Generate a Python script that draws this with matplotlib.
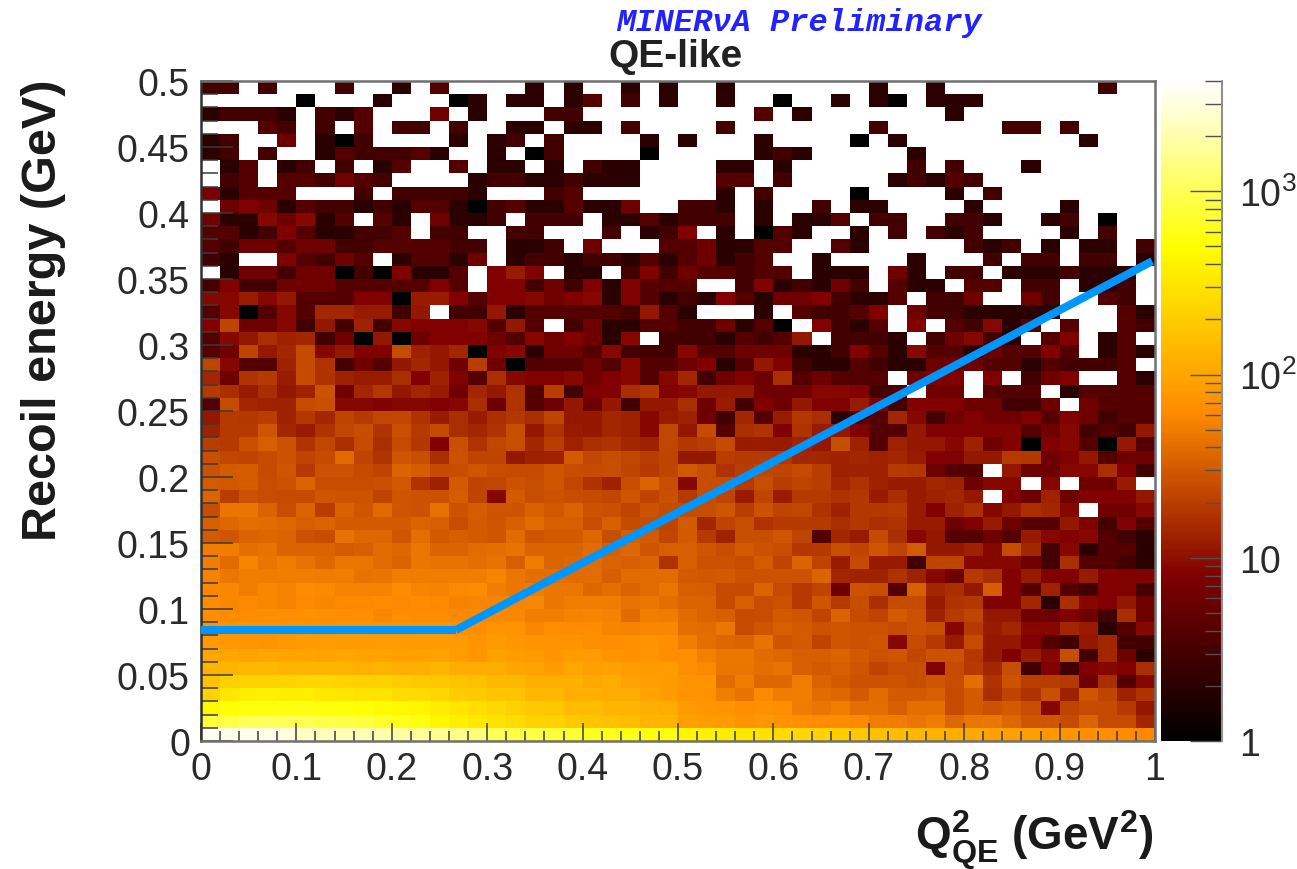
#!/usr/bin/env python3
import numpy as np
import matplotlib
matplotlib.use("Agg")
import matplotlib.pyplot as plt
from matplotlib.colors import LinearSegmentedColormap, LogNorm
from matplotlib.ticker import FixedLocator, FixedFormatter, NullFormatter

plt.rcParams["font.family"] = "Liberation Sans"
plt.rcParams["mathtext.fontset"] = "custom"
plt.rcParams["mathtext.rm"] = "Liberation Sans"
plt.rcParams["mathtext.bf"] = "Liberation Sans:bold"
plt.rcParams["mathtext.it"] = "Liberation Sans:italic"

# event counts per cell, top row (0.49-0.5 GeV) first, 0 = empty bin
counts = [
    [3,3,0,3,0,0,0,3,0,0,2,0,4,0,0,0,0,2,0,2,0,0,2,0,2,0, 0,2,0,0,0,0,0,0,0,2,0,0,2,0,0,0,0,0,0,0,0,3,0,0],
    [0,0,0,0,0,1,0,0,0,2,0,0,0,1,2,0,2,2,0,2,4,0,3,0,2,0, 0,2,0,0,1,0,0,2,0,2,1,0,2,2,2,0,0,0,0,0,0,0,0,0],
    [2,3,3,3,2,0,3,2,4,0,0,0,6,0,2,0,0,0,3,3,0,0,0,0,0,0, 0,0,0,4,0,2,0,0,0,0,0,0,0,2,0,0,0,0,0,0,0,0,0,0],
    [0,0,0,4,3,0,3,0,4,0,3,3,0,3,0,0,2,2,0,2,2,0,3,0,0,0, 0,3,0,0,0,0,0,0,0,3,0,0,0,0,0,0,3,3,0,3,0,0,0,0],
    [2,3,0,0,6,0,2,1,3,0,0,0,0,2,0,2,3,0,3,0,0,0,0,2,0,2, 0,0,0,2,0,0,0,0,1,0,2,0,0,0,0,0,0,0,0,0,2,0,0,0],
    [2,3,0,3,0,0,2,4,3,3,3,4,2,0,0,2,0,1,3,0,0,0,0,1,0,0, 0,0,0,2,3,2,0,0,0,0,0,2,0,0,0,0,0,0,0,0,0,0,0,0],
    [0,2,4,0,2,3,0,3,0,2,4,0,0,4,0,2,2,0,2,0,3,2,2,0,0,0, 0,2,2,0,2,0,0,0,0,0,0,3,0,3,0,0,0,2,0,0,0,0,0,0],
    [0,3,4,0,4,4,3,6,4,3,0,0,0,0,2,3,3,2,2,3,2,2,2,0,0,0, 0,4,4,0,3,0,0,0,0,0,2,3,2,4,3,0,0,0,0,0,0,0,0,0],
    [7,2,4,4,4,0,0,0,3,0,3,3,3,3,2,0,0,0,3,4,0,0,0,0,0,0, 0,2,0,3,0,0,0,0,1,0,0,0,0,2,0,3,0,0,0,0,0,0,0,0],
    [0,6,8,6,2,4,3,3,2,3,2,4,4,2,1,3,4,2,2,4,2,2,6,0,0,3, 3,2,0,2,0,0,3,0,2,2,0,0,0,0,2,0,0,0,0,2,0,0,0,0],
    [6,2,2,9,6,9,2,4,0,4,2,0,6,2,2,3,0,3,3,3,0,2,2,4,2,3, 3,3,0,2,0,2,2,4,0,3,3,0,0,3,3,2,0,0,2,3,0,1,0,0],
    [4,4,2,3,8,4,2,2,3,3,4,0,3,3,0,0,3,3,0,0,0,3,0,2,3,8, 0,2,0,1,4,2,0,0,2,0,3,0,3,2,3,0,0,0,0,2,0,3,0,0],
    [4,3,6,6,4,6,6,3,3,4,4,4,4,3,3,0,2,2,3,0,6,0,0,0,4,4, 6,2,2,4,4,0,0,4,2,0,0,0,0,0,3,2,3,0,2,0,2,2,0,3],
    [3,2,0,0,8,4,3,6,4,0,2,4,4,2,6,0,2,3,3,2,3,3,2,4,2,4, 6,2,3,4,0,0,2,0,0,0,0,2,0,0,0,3,0,3,3,0,3,3,0,2],
    [0,2,6,6,3,6,6,1,3,1,8,2,2,4,0,8,12,8,0,2,2,0,3,8,3,6, 4,4,3,4,4,0,2,2,2,0,6,2,0,3,3,0,2,2,2,3,2,2,2,0],
    [3,8,3,3,6,6,6,4,4,4,4,4,8,4,0,8,8,3,6,3,8,2,8,4,4,4, 0,0,3,8,2,3,2,6,3,0,4,2,2,0,4,4,0,3,3,0,2,2,3,0],
    [9,9,12,9,11,4,4,4,8,8,1,12,12,8,4,8,8,9,6,8,9,2,8,4,2,3, 2,8,4,2,6,6,8,3,2,2,4,0,3,3,6,0,0,6,3,0,0,4,3,0],
    [4,9,1,4,9,4,14,14,12,12,3,11,0,3,3,11,2,4,4,4,4,4,3,11,4,2, 0,0,0,2,0,4,3,3,4,8,0,6,3,3,2,2,2,2,2,0,0,0,4,2],
    [8,22,6,6,9,3,11,3,13,3,9,8,8,8,9,4,11,4,0,3,6,2,2,4,4,3, 3,6,2,4,1,0,8,3,2,4,0,8,0,4,3,9,2,4,0,4,0,0,4,3],
    [4,9,11,16,13,14,3,6,1,11,1,6,8,8,8,6,4,9,6,8,6,2,9,0,3,3, 3,2,4,3,4,11,0,3,3,3,2,0,3,6,9,3,2,0,4,8,0,2,4,0],
    [4,6,22,11,14,24,9,11,8,8,24,13,11,14,1,8,9,2,6,6,4,9,3,3,3,9, 4,4,6,6,6,2,2,3,8,4,2,9,4,4,2,6,4,4,8,4,0,2,4,2],
    [22,9,4,4,13,24,17,3,6,4,11,14,11,6,20,6,1,4,4,4,6,4,9,4,4,6, 8,2,4,11,8,3,2,2,4,3,2,2,6,6,6,4,4,2,4,3,3,3,4,0],
    [14,6,17,19,12,24,17,13,12,12,16,8,13,8,4,16,9,8,8,9,6,8,9,4,9,14, 3,6,8,6,16,4,6,4,4,4,0,6,8,8,0,8,0,3,6,8,0,0,4,2],
    [19,16,12,16,11,13,27,6,14,18,11,14,12,6,14,11,17,4,20,3,8,8,16,18,8,9, 11,11,11,6,6,6,9,9,8,3,4,0,6,6,0,4,4,4,0,2,4,4,4,4],
    [4,24,14,13,13,24,26,9,9,8,9,9,8,9,16,6,17,4,6,11,6,11,3,11,11,16, 6,12,3,8,6,11,8,8,12,8,3,8,8,8,6,6,3,3,6,0,6,4,4,4],
    [11,19,18,20,13,18,14,22,19,23,23,17,12,16,12,16,18,16,22,11,11,14,13,9,12,13, 6,3,14,4,12,18,16,2,4,4,14,9,3,6,8,6,6,8,4,8,6,3,4,4],
    [13,19,19,29,14,12,17,23,25,17,26,19,24,16,14,17,25,11,17,12,11,14,13,9,23,11, 24,4,16,17,8,17,12,11,8,4,4,11,8,8,8,8,8,4,6,9,3,4,3,11],
    [20,19,26,33,27,17,23,16,24,16,24,18,8,26,17,23,25,14,20,13,16,17,14,13,23,18, 20,24,12,12,12,13,11,25,13,4,13,11,11,9,13,6,8,1,8,9,4,1,11,4],
    [26,23,22,24,27,22,24,38,22,17,29,25,16,27,22,22,11,13,13,31,23,25,23,20,22,11, 11,20,19,19,18,14,14,13,14,13,14,12,8,8,11,11,19,18,6,8,11,4,6,6],
    [27,31,32,24,29,19,27,27,24,22,35,32,24,25,29,25,24,24,29,25,24,25,22,19,22,30, 25,17,20,23,22,24,20,13,13,13,19,18,6,4,4,0,11,6,6,9,9,16,8,3],
    [31,30,32,25,27,35,25,25,25,26,30,17,13,31,22,23,27,25,29,23,17,13,25,35,25,9, 25,25,19,25,20,22,20,14,17,13,12,12,14,13,6,9,9,0,9,0,6,6,12,0],
    [35,20,27,25,24,24,29,28,28,22,29,27,27,32,22,9,31,25,27,25,24,23,29,22,26,19, 25,22,12,22,12,19,19,17,18,12,16,12,13,14,11,0,8,6,13,6,8,8,8,11],
    [25,45,45,35,25,35,20,34,29,38,29,27,42,27,32,28,28,34,30,35,27,26,22,27,24,24, 25,29,20,27,22,23,17,13,18,18,19,12,8,13,16,9,11,16,14,9,0,6,6,9],
    [33,37,41,39,37,33,35,31,31,31,31,35,33,25,31,29,33,39,33,33,25,33,24,25,22,31, 14,22,25,17,19,19,19,16,18,16,17,12,12,6,8,12,6,4,4,11,8,3,8,4],
    [31,29,35,37,35,27,25,43,37,37,29,41,31,33,31,29,39,29,31,31,37,25,33,31,23,31, 19,13,25,25,29,22,4,14,12,24,16,9,11,4,4,6,4,12,9,8,9,4,3,2],
    [49,50,41,43,35,35,35,31,33,39,37,47,35,35,39,41,43,35,35,35,39,33,37,29,33,33, 29,25,31,27,25,18,19,25,22,29,22,31,11,11,13,9,24,14,3,9,2,4,4,2],
    [52,39,56,45,49,43,37,47,45,39,35,47,43,43,41,43,33,49,35,37,39,35,33,35,17,33, 27,27,25,31,22,35,22,12,24,12,12,3,22,22,9,9,9,6,3,16,4,4,3,2],
    [54,47,51,49,51,51,49,52,43,45,51,49,51,52,51,56,47,41,41,39,39,33,39,39,39,31, 30,31,27,27,28,27,35,14,13,13,17,13,9,6,19,16,8,12,8,8,12,8,8,8],
    [60,58,52,58,54,62,60,54,54,54,62,56,54,60,63,51,47,49,47,47,37,41,35,39,45,33, 32,24,24,35,24,19,22,6,27,25,4,33,14,16,11,32,8,4,13,4,3,8,8,3],
    [62,58,60,58,54,60,58,60,60,62,60,62,60,54,56,56,56,58,47,51,51,49,43,47,41,35, 35,24,33,25,27,19,29,19,25,16,24,24,12,17,18,8,8,14,2,16,9,8,11,6],
    [65,63,63,65,66,68,66,66,68,58,65,63,63,60,60,60,58,52,52,54,56,54,39,52,49,39, 35,33,24,25,31,29,22,35,24,22,31,27,13,19,22,11,11,6,6,8,6,3,16,6],
    [74,74,72,72,74,72,74,74,72,72,74,72,72,68,66,72,74,58,65,62,62,56,54,58,58,41, 39,47,24,29,33,31,27,29,27,27,24,27,25,9,19,12,14,9,9,14,12,2,4,9],
    [80,78,76,70,78,80,82,80,80,82,84,80,80,80,74,80,76,72,70,74,66,64,68,70,66,51, 41,37,35,43,29,31,22,29,27,29,9,24,19,12,24,11,11,8,4,3,11,14,3,3],
    [100,100,96,100,98,98,96,100,94,94,90,90,94,86,76,90,84,80,72,86,82,70,68,76,64,64, 53,47,47,39,37,33,33,35,31,27,29,23,27,27,18,11,8,12,9,25,3,14,6,2],
    [130,130,140,140,130,130,130,130,120,130,120,120,130,110,110,110,100,96,84,100,90,92,86,84,86,64, 60,45,45,41,43,33,31,33,29,22,25,25,8,24,19,14,25,3,8,3,8,9,8,16],
    [170,210,230,230,220,240,240,220,210,210,200,190,180,170,160,140,140,120,120,120,106,112,92,90,80,72, 72,39,49,37,37,49,35,31,27,27,28,25,29,25,41,17,27,20,20,19,6,16,4,9],
    [220,330,370,380,370,370,340,330,300,300,270,260,240,200,190,170,170,140,140,120,120,110,110,95,85,72, 68,51,43,60,49,51,39,37,31,39,31,31,33,24,31,16,22,17,26,13,29,22,13,17],
    [450,500,540,550,560,560,540,520,510,470,450,420,360,320,280,250,210,190,180,150,150,130,130,120,110,80, 76,72,64,68,64,49,45,52,41,41,33,41,41,24,31,27,31,25,9,22,24,24,19,11],
    [800,900,1000,1050,1000,950,900,850,800,700,600,540,440,380,340,290,270,230,220,190,170,160,150,130,130,88, 84,80,74,78,72,66,62,62,60,52,49,45,49,37,45,47,37,29,29,24,35,24,24,14],
    [3600,3400,3300,3200,3000,2400,2300,2200,2100,2000,1800,1700,1600,1500,1300,1000,900,850,800,750,650,620,590,550,520,420, 390,360,320,290,260,240,220,200,180,160,150,140,125,115,105,95,90,85,78,70,66,64,62,60],
]

# cut line
cut_q2 = [0.0, 0.267, 0.997]
cut_recoil = [0.084, 0.084, 0.3635]

x_ticks = [0, 0.1, 0.2, 0.3, 0.4, 0.5, 0.6, 0.7, 0.8, 0.9, 1]
x_labels = ["0", "0.1", "0.2", "0.3", "0.4", "0.5", "0.6", "0.7", "0.8", "0.9", "1"]
y_ticks = [0, 0.05, 0.1, 0.15, 0.2, 0.25, 0.3, 0.35, 0.4, 0.45, 0.5]
y_labels = ["0", "0.05", "0.1", "0.15", "0.2", "0.25", "0.3", "0.35", "0.4", "0.45", "0.5"]

W, H = 1297, 870
FRAME = "#707070"
TEXT = "#2a2a2a"

# same stops as ROOT's dark body radiator palette
palette = LinearSegmentedColormap.from_list(
    "darkbody",
    [(0.0, (0, 0, 0)), (0.25, (0.5, 0, 0)), (0.5, (1, 0.55, 0)),
     (0.75, (1, 1, 0)), (1.0, (1, 1, 1))],
    N=256,
)
palette.set_bad("white")

fig = plt.figure(figsize=(W / 100, H / 100), dpi=100)
ax = fig.add_axes([201 / W, 1 - 742 / H, 954 / W, 660 / H])
cax = fig.add_axes([1161 / W, 1 - 742 / H, 61 / W, 660 / H])

grid = np.array(counts, dtype=float)[::-1]
grid = np.ma.masked_where(grid <= 0, grid)
x_edges = np.linspace(0, 1, grid.shape[1] + 1)
y_edges = np.linspace(0, 0.5, grid.shape[0] + 1)

mesh = ax.pcolormesh(x_edges, y_edges, grid, cmap=palette,
                     norm=LogNorm(vmin=1, vmax=4000), rasterized=True)
# two separate pieces, the reference shows a small notch at the corner
ax.plot(cut_q2[:2], cut_recoil[:2], color="#0096ff", lw=5.8, solid_capstyle="butt", zorder=5)
ax.plot(cut_q2[1:], cut_recoil[1:], color="#0096ff", lw=5.8, solid_capstyle="butt", zorder=5)

ax.set_xlim(0, 1)
ax.set_ylim(0, 0.5)
ax.xaxis.set_major_locator(FixedLocator(x_ticks))
ax.xaxis.set_major_formatter(FixedFormatter(x_labels))
ax.xaxis.set_minor_locator(FixedLocator(np.arange(0, 1.001, 0.02)))
ax.yaxis.set_major_locator(FixedLocator(y_ticks))
ax.yaxis.set_major_formatter(FixedFormatter(y_labels))
ax.yaxis.set_minor_locator(FixedLocator(np.arange(0, 0.5001, 0.01)))
ax.tick_params(axis="x", which="major", direction="in", length=13, width=1.1,
               color="#3a3a3a", labelsize=27, labelcolor=TEXT, pad=7)
ax.tick_params(axis="x", which="minor", direction="in", length=7, width=1.1, color="#3a3a3a")
ax.tick_params(axis="y", which="major", direction="in", length=23, width=1.1,
               color="#3a3a3a", labelsize=27, labelcolor=TEXT, pad=8)
ax.tick_params(axis="y", which="minor", direction="in", length=12, width=1.1, color="#3a3a3a")
for s in ax.spines.values():
    s.set_color(FRAME)
    s.set_linewidth(1.8)
ax.spines["left"].set_color("#303030")

cbar = fig.colorbar(mesh, cax=cax)
cbar.outline.set_visible(False)
cax.yaxis.set_major_locator(FixedLocator([1, 10, 100, 1000]))
cax.yaxis.set_major_formatter(FixedFormatter(["1", "10", "$\\mathregular{10^{2}}$", "$\\mathregular{10^{3}}$"]))
cax.yaxis.set_minor_locator(FixedLocator(
    [m * d for d in (1, 10, 100, 1000) for m in range(2, 10) if m * d <= 4000]))
cax.yaxis.set_minor_formatter(NullFormatter())
cax.tick_params(axis="y", which="major", direction="in", length=23, width=1.0,
                color="#505050", labelsize=27, labelcolor=TEXT, pad=12, right=True)
cax.tick_params(axis="y", which="minor", direction="in", length=12, width=1.0, color="#505050")
cax.plot([1, 1], [0, 1], transform=cax.transAxes, color="#909090", lw=1.5, clip_on=False)

fig.text(799 / W, 1 - 23 / H, "MINER\u03bdA Preliminary", color="#2222ff", family="Liberation Mono",
         weight="bold", style="italic", size=23, ha="center", va="center")
fig.text(675 / W, 1 - 57 / H, "QE-like", color="#222222", weight="bold", size=28,
         ha="center", va="center")
fig.text(44 / W, 1 - 310 / H, "Recoil energy (GeV)", color="#1a1a1a", weight="bold", size=35,
         rotation=90, ha="center", va="center")
fig.text(1153 / W, 1 - 841 / H, "$\\mathbf{Q^{2}_{QE}}$ (GeV$\\mathbf{^{2}}$)", color="#1a1a1a",
         weight="bold", size=33, ha="right", va="center")

fig.savefig("out.png", dpi=100)
